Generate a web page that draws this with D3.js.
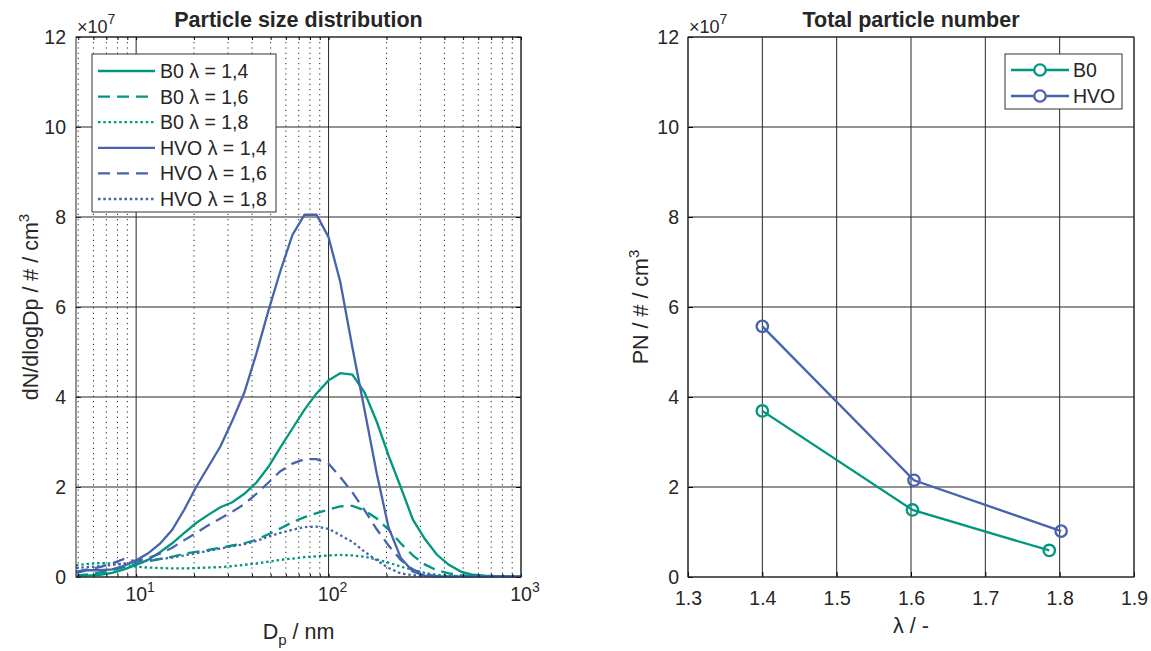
<!DOCTYPE html>
<html>
<head>
<meta charset="utf-8">
<script src="https://cdn.jsdelivr.net/npm/d3@7"></script>
<style>
body { margin: 0; background: #fff; }
svg text { font-family: "Liberation Sans", Arial, Helvetica, sans-serif; fill: #262626; }
</style>
</head>
<body>
<svg id="chart" width="1151" height="651"></svg>
<script>
// particle diameters (nm), 16 classes per decade
var diameters = [4.87, 5.62, 6.49, 7.50, 8.66, 10.0, 11.5, 13.3, 15.4, 17.8, 20.5, 23.7, 27.4, 31.6,
    36.5, 42.2, 48.7, 56.2, 64.9, 75.0, 86.6, 100, 115, 133, 154, 178, 205, 237, 274, 316, 365, 422,
    487, 562, 649, 750, 866, 1000];

// dN/dlogDp in 1e7 #/cm3
var b0_14 = [0.02, 0.03, 0.05, 0.09, 0.17, 0.27, 0.38, 0.55, 0.75, 0.98, 1.20, 1.38, 1.55, 1.66,
    1.85, 2.10, 2.45, 2.88, 3.30, 3.72, 4.08, 4.37, 4.53, 4.50, 4.10, 3.45, 2.70, 2.00, 1.28, 0.85,
    0.50, 0.27, 0.12, 0.05, 0.03, 0.02, 0.01, 0.01];
var b0_16 = [0.03, 0.06, 0.10, 0.15, 0.22, 0.30, 0.35, 0.40, 0.45, 0.52, 0.56, 0.60, 0.65, 0.70,
    0.75, 0.83, 0.95, 1.08, 1.22, 1.33, 1.42, 1.50, 1.57, 1.58, 1.48, 1.30, 1.05, 0.75, 0.48, 0.28,
    0.15, 0.08, 0.04, 0.02, 0.01, 0.01, 0.01, 0.01];
var b0_18 = [0.26, 0.29, 0.31, 0.30, 0.27, 0.23, 0.21, 0.20, 0.19, 0.19, 0.20, 0.21, 0.22, 0.24,
    0.27, 0.30, 0.34, 0.38, 0.41, 0.44, 0.46, 0.48, 0.49, 0.48, 0.45, 0.39, 0.32, 0.23, 0.16, 0.09,
    0.05, 0.03, 0.02, 0.01, 0.01, 0.01, 0.01, 0.01];
var hvo_14 = [0.09, 0.15, 0.15, 0.17, 0.25, 0.37, 0.52, 0.74, 1.05, 1.50, 2.00, 2.45, 2.90, 3.47,
    4.10, 4.97, 5.92, 6.80, 7.60, 8.05, 8.05, 7.55, 6.56, 5.10, 3.70, 2.30, 1.10, 0.43, 0.12, 0.03,
    0.01, 0.01, 0.01, 0.01, 0.01, 0.01, 0.01, 0.01];
var hvo_16 = [0.12, 0.17, 0.22, 0.30, 0.40, 0.35, 0.42, 0.52, 0.65, 0.82, 0.98, 1.15, 1.30, 1.45,
    1.62, 1.85, 2.10, 2.35, 2.52, 2.62, 2.62, 2.52, 2.22, 1.88, 1.48, 1.06, 0.70, 0.38, 0.17, 0.06,
    0.02, 0.01, 0.01, 0.01, 0.01, 0.01, 0.01, 0.01];
var hvo_18 = [0.20, 0.22, 0.24, 0.27, 0.30, 0.33, 0.36, 0.40, 0.43, 0.48, 0.53, 0.58, 0.63, 0.68,
    0.73, 0.80, 0.90, 0.98, 1.05, 1.11, 1.12, 1.07, 0.93, 0.78, 0.56, 0.37, 0.20, 0.08, 0.04, 0.02,
    0.01, 0.01, 0.01, 0.01, 0.01, 0.01, 0.01, 0.01];

// total particle number, 1e7 #/cm3
var lambdaB0 = [1.4, 1.602, 1.786];
var pnB0 = [3.69, 1.49, 0.59];
var lambdaHVO = [1.4, 1.604, 1.802];
var pnHVO = [5.57, 2.15, 1.02];

var yTicks = [0, 2, 4, 6, 8, 10, 12];
var dpTicks = [10, 100, 1000];
var lambdaTicks = [1.3, 1.4, 1.5, 1.6, 1.7, 1.8, 1.9];

var green = "#00977f", blue = "#4763ad";
var axisColor = "#262626";
var tickFont = "19.5px", labelFont = "21.5px";

var svg = d3.select("#chart");

function sup(sel, base, exp, size) {
    sel.text(base);
    sel.append("tspan").attr("dy", -9).style("font-size", size + "px").text(exp);
}

// ---------- left panel ----------
var L = {x0: 76, x1: 521, y0: 37, y1: 577};
var x = d3.scaleLog().domain([4.87, 1000]).range([L.x0, L.x1]);
var y = d3.scaleLinear().domain([0, 12]).range([L.y1, L.y0]);

var g1 = svg.append("g");

// minor grid (dotted)
var minor = x.ticks().filter(function (d) { return dpTicks.indexOf(d) < 0; });
g1.selectAll(".minor").data(minor).enter().append("line")
    .attr("x1", function (d) { return x(d); }).attr("x2", function (d) { return x(d); })
    .attr("y1", L.y0).attr("y2", L.y1)
    .attr("stroke", "#222").attr("stroke-width", 1).attr("stroke-dasharray", "1.2,4");
// major grid
g1.selectAll(".vmaj").data(dpTicks).enter().append("line")
    .attr("x1", function (d) { return x(d); }).attr("x2", function (d) { return x(d); })
    .attr("y1", L.y0).attr("y2", L.y1)
    .attr("stroke", axisColor).attr("stroke-width", 1);
g1.selectAll(".hmaj").data(yTicks).enter().append("line")
    .attr("x1", L.x0).attr("x2", L.x1)
    .attr("y1", function (d) { return y(d); }).attr("y2", function (d) { return y(d); })
    .attr("stroke", axisColor).attr("stroke-width", 1);

var series = [
    {name: "B0 \u03bb = 1,4", color: green, dash: null, values: b0_14},
    {name: "B0 \u03bb = 1,6", color: green, dash: "12,7", values: b0_16},
    {name: "B0 \u03bb = 1,8", color: green, dash: "2.5,2.8", values: b0_18},
    {name: "HVO \u03bb = 1,4", color: blue, dash: null, values: hvo_14},
    {name: "HVO \u03bb = 1,6", color: blue, dash: "12,7", values: hvo_16},
    {name: "HVO \u03bb = 1,8", color: blue, dash: "2.5,2.8", values: hvo_18}
];

var line = d3.line()
    .x(function (d, i) { return x(diameters[i]); })
    .y(function (d) { return y(d); });

g1.selectAll(".psd").data(series).enter().append("path")
    .attr("fill", "none")
    .attr("stroke", function (d) { return d.color; })
    .attr("stroke-width", 2.3)
    .attr("stroke-dasharray", function (d) { return d.dash; })
    .attr("d", function (d) { return line(d.values); });

// axes
g1.append("g").attr("transform", "translate(" + L.x0 + ",0)")
    .call(d3.axisLeft(y).tickValues(yTicks).tickSize(-5).tickPadding(10))
    .call(function (a) { a.select(".domain").remove(); a.selectAll("text").style("font-size", tickFont); a.selectAll("line").attr("stroke", axisColor); });
g1.append("g").attr("transform", "translate(" + L.x1 + ",0)")
    .call(d3.axisRight(y).tickValues(yTicks).tickSize(-5).tickFormat(""))
    .call(function (a) { a.select(".domain").remove(); });
g1.append("g").attr("transform", "translate(0," + L.y1 + ")")
    .call(d3.axisBottom(x).tickValues(x.ticks()).tickSize(-3).tickFormat(""))
    .call(function (a) { a.select(".domain").remove(); });
g1.append("g").attr("transform", "translate(0," + L.y0 + ")")
    .call(d3.axisTop(x).tickValues(x.ticks()).tickSize(-3).tickFormat(""))
    .call(function (a) { a.select(".domain").remove(); });
g1.append("rect").attr("x", L.x0).attr("y", L.y0)
    .attr("width", L.x1 - L.x0).attr("height", L.y1 - L.y0)
    .attr("fill", "none").attr("stroke", axisColor).attr("stroke-width", 1);

g1.selectAll(".xl").data(dpTicks).enter().append("text")
    .attr("x", function (d) { return x(d) + 4; })
    .attr("y", 601)
    .attr("text-anchor", "middle")
    .style("font-size", tickFont)
    .each(function (d) { sup(d3.select(this), "10", String(Math.round(Math.log10(d))), 14); });

var ex1 = g1.append("text").attr("x", L.x0 + 1).attr("y", 33).style("font-size", "18px");
sup(ex1, "\u00d710", "7", 14);

g1.append("text").attr("x", (L.x0 + L.x1) / 2).attr("y", 27)
    .attr("text-anchor", "middle").style("font-size", labelFont).style("font-weight", "bold")
    .text("Particle size distribution");

var xl1 = g1.append("text").attr("x", (L.x0 + L.x1) / 2).attr("y", 639)
    .attr("text-anchor", "middle").style("font-size", labelFont);
xl1.text("D");
xl1.append("tspan").attr("dy", 6).style("font-size", "15px").text("p");
xl1.append("tspan").attr("dy", -6).text(" / nm");

var yl1 = g1.append("text")
    .attr("transform", "translate(38," + ((L.y0 + L.y1) / 2) + ") rotate(-90)")
    .attr("text-anchor", "middle").style("font-size", labelFont);
sup(yl1, "dN/dlogDp / # / cm", "3", 15);

// legend
var lg1 = g1.append("g");
lg1.append("rect").attr("x", 92).attr("y", 54).attr("width", 184).attr("height", 158)
    .attr("fill", "#fff").attr("stroke", "#333").attr("stroke-width", 1);
var li1 = lg1.selectAll(".li").data(series).enter().append("g")
    .attr("transform", function (d, i) { return "translate(0," + (71 + i * 25.6) + ")"; });
li1.append("line").attr("x1", 98).attr("x2", 155)
    .attr("stroke", function (d) { return d.color; })
    .attr("stroke-width", 2.3)
    .attr("stroke-dasharray", function (d) { return d.dash; });
li1.append("text").attr("x", 160).attr("y", 7).style("font-size", tickFont)
    .text(function (d) { return d.name; });

// ---------- right panel ----------
var R = {x0: 688, x1: 1134, y0: 37, y1: 577};
var x2 = d3.scaleLinear().domain([1.3, 1.9]).range([R.x0, R.x1]);
var y2 = d3.scaleLinear().domain([0, 12]).range([R.y1, R.y0]);
var g2 = svg.append("g");

g2.selectAll(".v").data(lambdaTicks).enter().append("line")
    .attr("x1", function (d) { return x2(d); }).attr("x2", function (d) { return x2(d); })
    .attr("y1", R.y0).attr("y2", R.y1)
    .attr("stroke", axisColor).attr("stroke-width", 1);
g2.selectAll(".h").data(yTicks).enter().append("line")
    .attr("x1", R.x0).attr("x2", R.x1)
    .attr("y1", function (d) { return y2(d); }).attr("y2", function (d) { return y2(d); })
    .attr("stroke", axisColor).attr("stroke-width", 1);

g2.append("g").attr("transform", "translate(" + R.x0 + ",0)")
    .call(d3.axisLeft(y2).tickValues(yTicks).tickSize(-5).tickPadding(9))
    .call(function (a) { a.select(".domain").remove(); a.selectAll("text").style("font-size", tickFont); });
g2.append("g").attr("transform", "translate(0," + R.y1 + ")")
    .call(d3.axisBottom(x2).tickValues(lambdaTicks).tickSize(-5).tickPadding(14).tickFormat(d3.format(".1f")))
    .call(function (a) { a.select(".domain").remove(); a.selectAll("text").style("font-size", tickFont); });
g2.append("rect").attr("x", R.x0).attr("y", R.y0)
    .attr("width", R.x1 - R.x0).attr("height", R.y1 - R.y0)
    .attr("fill", "none").attr("stroke", axisColor).attr("stroke-width", 1);

var pnSeries = [
    {name: "B0", color: green, xs: lambdaB0, ys: pnB0},
    {name: "HVO", color: blue, xs: lambdaHVO, ys: pnHVO}
];
var line2 = d3.line()
    .x(function (d) { return x2(d[0]); })
    .y(function (d) { return y2(d[1]); });
pnSeries.forEach(function (s) {
    var pts = s.xs.map(function (v, i) { return [v, s.ys[i]]; });
    g2.append("path").attr("fill", "none").attr("stroke", s.color).attr("stroke-width", 2.3)
        .attr("d", line2(pts));
    g2.selectAll(null).data(pts).enter().append("circle")
        .attr("cx", function (d) { return x2(d[0]); })
        .attr("cy", function (d) { return y2(d[1]); })
        .attr("r", 5.7).attr("fill", "none").attr("stroke", s.color).attr("stroke-width", 2.3);
});

var ex2 = g2.append("text").attr("x", R.x0 + 1).attr("y", 33).style("font-size", "18px");
sup(ex2, "\u00d710", "7", 14);

g2.append("text").attr("x", (R.x0 + R.x1) / 2).attr("y", 27)
    .attr("text-anchor", "middle").style("font-size", labelFont).style("font-weight", "bold")
    .text("Total particle number");

g2.append("text").attr("x", (R.x0 + R.x1) / 2).attr("y", 633)
    .attr("text-anchor", "middle").style("font-size", labelFont).text("\u03bb / -");

var yl2 = g2.append("text")
    .attr("transform", "translate(648," + ((R.y0 + R.y1) / 2) + ") rotate(-90)")
    .attr("text-anchor", "middle").style("font-size", labelFont);
sup(yl2, "PN / # / cm", "3", 15);

var lg2 = g2.append("g");
lg2.append("rect").attr("x", 1005).attr("y", 54).attr("width", 117).attr("height", 55)
    .attr("fill", "#fff").attr("stroke", "#333").attr("stroke-width", 1);
var li2 = lg2.selectAll(".li").data(pnSeries).enter().append("g")
    .attr("transform", function (d, i) { return "translate(0," + (70 + i * 26) + ")"; });
li2.append("line").attr("x1", 1011).attr("x2", 1069)
    .attr("stroke", function (d) { return d.color; }).attr("stroke-width", 2.3);
li2.append("circle").attr("cx", 1040).attr("cy", 0).attr("r", 5.7)
    .attr("fill", "#fff").attr("stroke", function (d) { return d.color; }).attr("stroke-width", 2.3);
li2.append("text").attr("x", 1073).attr("y", 7).style("font-size", tickFont)
    .text(function (d) { return d.name; });
</script>
</body>
</html>
